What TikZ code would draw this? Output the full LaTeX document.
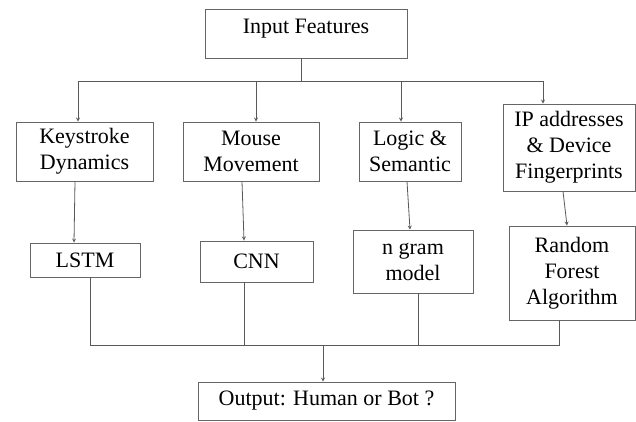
\documentclass[tikz,border=0pt]{standalone}
\usepackage{fontspec}
\setmainfont{Liberation Serif}
\usetikzlibrary{arrows}

\begin{document}
\begin{tikzpicture}[x=1pt,y=-1pt]
%style des noeuds
\tikzstyle{boite}=[rectangle,draw=black!60,line width=0.9pt,inner sep=0pt,
align=center,text=black,font=\fontsize{22}{26}\selectfont]
%style des fleches
\tikzstyle{fleche}=[->,>=stealth,draw=black!65,line width=0.8pt]
\tikzstyle{ligne}=[draw=black!65,line width=0.8pt]
\useasboundingbox (0,0) rectangle (636,421);
%placement des noeuds
\node[boite,minimum width=202pt,minimum height=49pt,text depth=14pt] (entree) at (306,33.5) {Input Features};
\node[boite,minimum width=137pt,minimum height=59pt] (frappe) at (84.5,151.5) {Keystroke\\Dynamics};
\node[boite,minimum width=136pt,minimum height=59pt] (souris) at (251,151.5) {Mouse\\Movement};
\node[boite,minimum width=102pt,minimum height=59pt] (logique) at (410,151.5) {Logic \&\\Semantic};
\node[boite,minimum width=132pt,minimum height=87pt] (ip) at (569,147.5) {IP addresses\\\& Device\\Fingerprints};
\node[boite,minimum width=110pt,minimum height=34pt] (lstm) at (85,260) {LSTM};
\node[boite,minimum width=113pt,minimum height=41pt] (cnn) at (256.5,261.5) {CNN};
\node[boite,minimum width=120pt,minimum height=63pt] (ngram) at (413,261.5) {n gram\\model};
\node[boite,minimum width=126pt,minimum height=94pt] (foret) at (572,273) {Random\\Forest\\Algorithm};
\node[boite,minimum width=257pt,minimum height=38pt] (sortie) at (326.5,401) {Output: Human or Bot ?};
%placement des fleches
\draw[ligne] ([xshift=-5pt]entree.south) -- ++(0,23) coordinate (bus);
\draw[fleche] (bus) -| ([xshift=-6.5pt]frappe.north);
\draw[fleche] (bus) -| ([xshift=5pt]souris.north);
\draw[fleche] (bus) -| ([xshift=-9pt]logique.north);
\draw[fleche] (bus) -| ([xshift=-26pt]ip.north);
\draw[fleche] ([xshift=-9.5pt]frappe.south) -- ([xshift=-11pt]lstm.north);
\draw[fleche] ([xshift=-9pt]souris.south) -- ([xshift=-12.5pt]cnn.north);
\draw[fleche] ([xshift=-3pt]logique.south) -- ([xshift=-3pt]ngram.north);
\draw[fleche] ([xshift=-6pt]ip.south) -- ([xshift=-5pt]foret.north);
\coordinate (collecte) at (323,345);
\draw[ligne] ([xshift=5pt]lstm.south) |- (collecte);
\draw[ligne] ([xshift=-12.5pt]cnn.south) |- (collecte);
\draw[ligne] ([xshift=5pt]ngram.south) |- (collecte);
\draw[ligne] ([xshift=-13pt]foret.south) |- (collecte);
\draw[fleche] (collecte) -- ([xshift=-3.5pt]sortie.north);
\end{tikzpicture}
\end{document}
